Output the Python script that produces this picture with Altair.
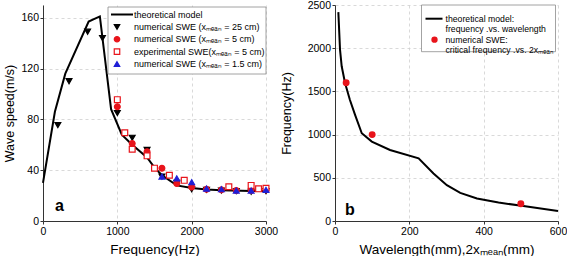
import altair as alt
import pandas as pd

FONT = "Liberation Sans"

# ---------------- Panel a data ----------------
theory_f = [0, 160, 300, 614, 765, 916, 1060, 1200, 1400, 1500, 1600, 1800, 2000, 2200, 2400, 2800, 3000]
theory_v = [30, 86, 116, 157, 161, 88, 68, 60, 50, 42, 36, 28, 26, 24.8, 24.2, 23.6, 23.6]

num25_f = [200, 350, 600, 800, 1000, 1200, 1400, 1600, 1800, 2000, 2200, 2400, 2600, 2800, 3000]
num25_v = [75.5, 110, 149, 144, 85, 65.5, 56, 35, 30, 25, 24.5, 24, 23.5, 23, 23.5]

num5_f = [1000, 1200, 1400, 1600, 1800, 2000, 2200, 2400, 2600, 2800, 3000]
num5_v = [90, 61, 54.5, 41.5, 29.5, 26.8, 25, 24.5, 24, 24, 24.5]

exp5_f = [1000, 1100, 1200, 1400, 1500, 1700, 1900, 2500, 2800, 2900, 3000]
exp5_v = [95.5, 69.5, 56.5, 51.3, 41.6, 36, 32, 27, 28, 25.3, 25.8]

num15_f = [1600, 1800, 2000, 2200, 2400, 2600, 2800, 3000]
num15_v = [35, 33.5, 30.5, 25.5, 25, 24, 24, 24.5]

series_a = [
    "numerical SWE  (xₘₑₐₙ = 25 cm)",
    "numerical SWE  (xₘₑₐₙ = 5 cm)",
    "experimental SWE(xₘₑₐₙ = 5 cm)",
    "numerical SWE  (xₘₑₐₙ = 1.5 cm)",
]
legend_a = ["theoretical model"] + series_a

# ---------------- Panel b data ----------------
wl = [9, 13.5, 18, 27, 40, 54, 72, 99, 148, 225, 265, 301, 337, 382, 440, 507, 600]
fq = [2418, 1984, 1791, 1597, 1403, 1229, 1016, 919, 822, 725, 550, 415, 326, 260, 213, 174, 116]

crit_wl = [30, 100, 500]
crit_fq = [1600, 1000, 200]

legend_b = [
    "theoretical model:\nfrequency .vs. wavelength",
    "numerical SWE:\ncritical frequency .vs. 2xₘₑₐₙ",
]

# ---------------- styles ----------------
shape_range = ["triangle-down", "circle", "square", "triangle-up"]
stroke_range = ["black", "#e8141b", "#e8141b", "#1f1fd6"]
fill_range = ["black", "#e8141b", "white", "#1f1fd6"]

W, H = 223, 216
TICK = 10.5
GRID = dict(gridColor="#cfcfcf", gridDash=[3, 3], gridWidth=0.8)
AX = dict(domainColor="#333", tickColor="#333", tickSize=3, labelFontSize=TICK,
          labelFont=FONT, titleFont=FONT, titleFontWeight="normal", labelColor="black",
          titleColor="black", format="d", labelOverlap=False, labelFlush=False, **GRID)

# ----- panel a -----
theory_a = pd.DataFrame({"f": theory_f, "v": theory_v})
pts = []
for s, fs, vs in zip(series_a, [num25_f, num5_f, exp5_f, num15_f],
                     [num25_v, num5_v, exp5_v, num15_v]):
    pts.append(pd.DataFrame({"f": fs, "v": vs, "series": s}))
pts_a = pd.concat(pts, ignore_index=True)

xa = alt.X("f:Q", scale=alt.Scale(domain=[0, 3000], nice=False),
           axis=alt.Axis(values=list(range(0, 3001, 500)), title="Frequency(Hz)",
                         titleFontSize=13.5, labelPadding=2, titlePadding=6, **AX))
ya = alt.Y("v:Q", scale=alt.Scale(domain=[0, 170], nice=False),
           axis=alt.Axis(values=list(range(0, 161, 20)), title="Wave speed(m/s)",
                         titleFontSize=12.5, labelPadding=1.5, titlePadding=4, **AX))

shape_sc = alt.Scale(domain=series_a, range=shape_range)
stroke_sc = alt.Scale(domain=series_a, range=stroke_range)
fill_sc = alt.Scale(domain=series_a, range=fill_range)

line_a = alt.Chart(theory_a).mark_line(color="black", strokeWidth=2).encode(x=xa, y=ya)
scat_a = alt.Chart(pts_a).mark_point(size=34, strokeWidth=1.2, opacity=1).encode(
    x="f:Q", y="v:Q",
    shape=alt.Shape("series:N", scale=shape_sc, legend=None),
    stroke=alt.Stroke("series:N", scale=stroke_sc, legend=None),
    fill=alt.Fill("series:N", scale=fill_sc, legend=None),
)
lab_a = alt.Chart(pd.DataFrame({"f": [220], "v": [11.5], "t": ["a"]})).mark_text(
    font=FONT, fontSize=16, fontWeight="bold", baseline="middle").encode(
    x="f:Q", y="v:Q", text="t:N")

data_a = alt.layer(line_a, scat_a, lab_a)

leg_df_a = pd.DataFrame({"label": legend_a})
leg_y_a = alt.Y("label:N", sort=legend_a,
                scale=alt.Scale(type="point", range=[9.5, 59], padding=0), axis=None)
box_a = alt.Chart(pd.DataFrame({"b": [0]})).mark_rect(
    fill="white", stroke="#8c8c8c", strokeWidth=0.8).encode(
    x=alt.value(65), x2=alt.value(223), y=alt.value(2), y2=alt.value(69))
leg_line_a = alt.Chart(leg_df_a).transform_filter(
    alt.datum.label == "theoretical model").mark_rule(color="black", strokeWidth=2).encode(
    x=alt.value(68), x2=alt.value(90), y=leg_y_a)
leg_pts_a = alt.Chart(pd.DataFrame({"label": series_a, "series": series_a})).mark_point(
    size=30, strokeWidth=1.2, opacity=1).encode(
    x=alt.value(74), y=leg_y_a,
    shape=alt.Shape("series:N", scale=shape_sc, legend=None),
    stroke=alt.Stroke("series:N", scale=stroke_sc, legend=None),
    fill=alt.Fill("series:N", scale=fill_sc, legend=None),
)
leg_txt_a = alt.Chart(leg_df_a).mark_text(
    align="left", baseline="middle", font=FONT, fontSize=9, color="black").encode(
    x=alt.value(91), y=leg_y_a, text="label:N")
legend_layer_a = alt.layer(box_a, leg_line_a, leg_pts_a, leg_txt_a)

panel_a = alt.layer(data_a, legend_layer_a).resolve_scale(y="independent").properties(
    width=W, height=H)

# ----- panel b -----
theory_b = pd.DataFrame({"w": wl, "f": fq})
crit_b = pd.DataFrame({"w": crit_wl, "f": crit_fq})

xb = alt.X("w:Q", scale=alt.Scale(domain=[0, 600], nice=False),
           axis=alt.Axis(values=list(range(0, 601, 100)), title="Wavelength(mm),2xₘₑₐₙ(mm)",
                         titleFontSize=13.5, labelPadding=2, titlePadding=6, **AX))
yb = alt.Y("f:Q", scale=alt.Scale(domain=[0, 2500], nice=False),
           axis=alt.Axis(values=list(range(0, 2501, 500)), title="Frequency(Hz)",
                         titleFontSize=12.5, labelPadding=1.5, titlePadding=14, **AX))

line_b = alt.Chart(theory_b).mark_line(color="black", strokeWidth=2).encode(x=xb, y=yb)
dots_b = alt.Chart(crit_b).mark_point(filled=True, size=48, color="#e8141b", opacity=1).encode(
    x="w:Q", y="f:Q")
lab_b = alt.Chart(pd.DataFrame({"w": [40], "f": [124], "t": ["b"]})).mark_text(
    font=FONT, fontSize=16, fontWeight="bold", baseline="middle").encode(
    x="w:Q", y="f:Q", text="t:N")
data_b = alt.layer(line_b, dots_b, lab_b)

leg_df_b = pd.DataFrame({"label": legend_b})
leg_y_b = alt.Y("label:N", sort=legend_b,
                scale=alt.Scale(type="point", range=[13.7, 34.7], padding=0), axis=None)
box_b = alt.Chart(pd.DataFrame({"b": [0]})).mark_rect(
    fill="white", stroke="#8c8c8c", strokeWidth=0.8).encode(
    x=alt.value(86.5), x2=alt.value(220.5), y=alt.value(0), y2=alt.value(46.7))
leg_line_b = alt.Chart(leg_df_b).transform_filter(
    alt.datum.label == legend_b[0]).mark_rule(color="black", strokeWidth=2).encode(
    x=alt.value(90.5), x2=alt.value(107.5), y=leg_y_b)
leg_dot_b = alt.Chart(leg_df_b).transform_filter(
    alt.datum.label == legend_b[1]).mark_point(filled=True, size=40, color="#e8141b", opacity=1).encode(
    x=alt.value(99.5), y=leg_y_b)
leg_txt_b = alt.Chart(leg_df_b).mark_text(
    align="left", baseline="middle", font=FONT, fontSize=8.7, color="black",
    lineBreak="\n", lineHeight=10).encode(
    x=alt.value(110.5), y=leg_y_b, text="label:N")
legend_layer_b = alt.layer(box_b, leg_line_b, leg_dot_b, leg_txt_b)

panel_b = alt.layer(data_b, legend_layer_b).resolve_scale(y="independent").properties(
    width=W, height=H)

chart = alt.hconcat(panel_a, panel_b, spacing=2).properties(
    padding={"left": 3, "top": 0, "right": 0, "bottom": 0},
    background="white",
).configure_view(stroke=None)

chart.save("out.html", embed_options={"renderer": "svg", "actions": False})
